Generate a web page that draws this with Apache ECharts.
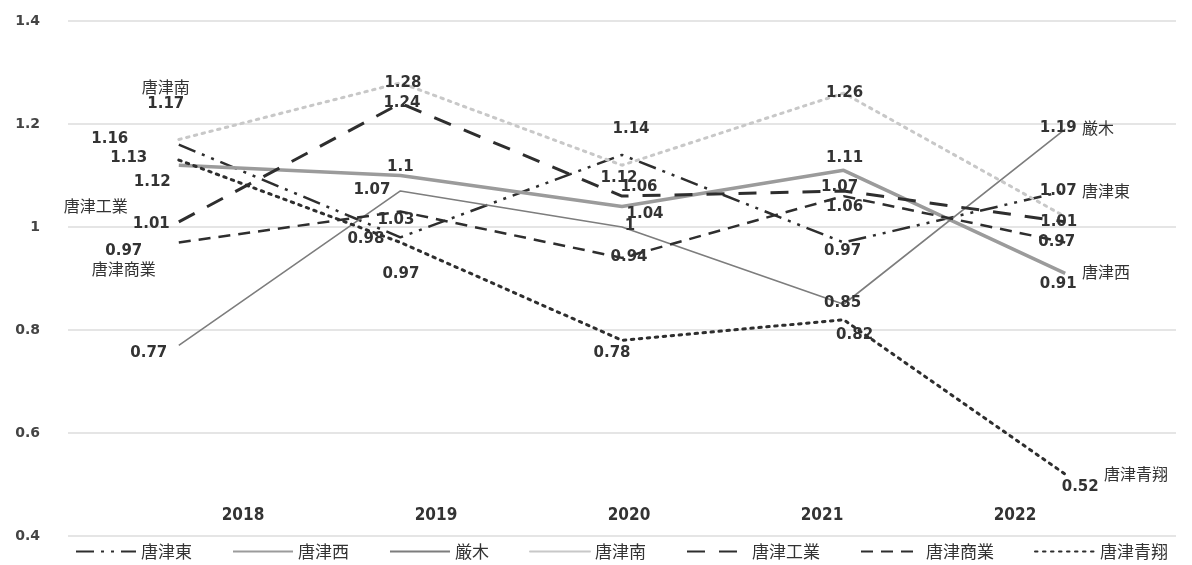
<!DOCTYPE html>
<html>
<head>
<meta charset="utf-8">
<title>唐津 各校</title>
<script src="https://cdn.jsdelivr.net/npm/echarts@6/dist/echarts.min.js"></script>
<style>
  html, body { margin: 0; padding: 0; background: #fff; }
  #main { width: 1192px; height: 565px; }
</style>
</head>
<body>
<div id="main"></div>
<script>
// 年度
const years = ['2018', '2019', '2020', '2021', '2022'];
// 縦軸
const yMin = 0.4, yMax = 1.4, yStep = 0.2;

// 各校の値
const higashi = [1.16, 0.98, 1.14, 0.97, 1.07];   // 唐津東
const nishi   = [1.12, 1.10, 1.04, 1.11, 0.91];   // 唐津西
const kyuragi = [0.77, 1.07, 1.00, 0.85, 1.19];   // 厳木
const minami  = [1.17, 1.28, 1.12, 1.26, 1.02];   // 唐津南
const kogyo   = [1.01, 1.24, 1.06, 1.07, 1.01];   // 唐津工業
const shogyo  = [0.97, 1.03, 0.94, 1.06, 0.97];   // 唐津商業
const seisho  = [1.13, 0.97, 0.78, 0.82, 0.52];   // 唐津青翔

const DARK = '#2e2e2e';

// 線の見た目
const styles = {
  '唐津東':   { color: DARK, width: 2.5, type: [18, 7, 3, 7, 3, 7] },
  '唐津西':   { color: '#9b9b9b', width: 3.5, type: 'solid' },
  '厳木':     { color: '#7d7d7d', width: 1.6, type: 'solid' },
  '唐津南':   { color: '#c8c8c8', width: 3, type: [2.5, 5.5], cap: 'round' },
  '唐津工業': { color: DARK, width: 3, type: [18, 14] },
  '唐津商業': { color: DARK, width: 2.5, type: [12, 8] },
  '唐津青翔': { color: DARK, width: 3, type: [2.5, 5.5], cap: 'round' }
};

// ラベル位置 [dx, dy, 表示形式]
const labelPlace = {
  '唐津東':   [[-69, -5], [-34.5, 2], [9, -26], [-1, 8.5], [-25.5, 0, 'after']],
  '唐津西':   [[-26.5, 17], [0, -8.5], [23, 7.5], [1, -12.5], [-25.5, 4.5, 'split']],
  '厳木':     [[-30, 7.5], [-28.5, -1], [8, -1], [-1, -1], [-25.5, -1, 'after']],
  '唐津南':   [[-13, -44, 'above'], [2.5, 0], [-3, 13], [1, 0], null],
  '唐津工業': [[-9, -7, 'aboveR'], [1.5, 0], [17, -9], [-4, -4], [-6.5, 0]],
  '唐津商業': [[-55, 18, 'below'], [-4.5, 8.5], [7, -1], [1, 11], [-8.5, 0]],
  '唐津青翔': [[-50, -2], [0.5, 31.5], [-10, 13], [11, 15], [-3.5, 6, 'split']]
};

const seriesList = [
  ['唐津東', higashi], ['唐津西', nishi], ['厳木', kyuragi], ['唐津南', minami],
  ['唐津工業', kogyo], ['唐津商業', shogyo], ['唐津青翔', seisho]
];

const numFont = 'DejaVu Sans';
const jpFont = '"Noto Sans CJK JP", "Noto Sans CJK SC", sans-serif';
const rich = {
  v:  { fontFamily: numFont, fontSize: 15, fontWeight: 'bold', color: '#333', lineHeight: 17 },
  n:  { fontFamily: jpFont, fontSize: 16, color: '#333', lineHeight: 18 },
  nr: { fontFamily: jpFont, fontSize: 16, color: '#333', lineHeight: 18, padding: [0, 42, 0, 0] },
  vb: { fontFamily: numFont, fontSize: 15, fontWeight: 'bold', color: '#333', lineHeight: 28, verticalAlign: 'bottom' },
  nt: { fontFamily: jpFont, fontSize: 16, color: '#333', lineHeight: 28, verticalAlign: 'top' }
};

function labelText(name, value, mode) {
  const v = String(value);
  switch (mode) {
    case 'above':  return '{n|' + name + '}\n{v|' + v + '}';
    case 'aboveR': return '{nr|' + name + '}\n{v|' + v + '}';
    case 'below':  return '{v|' + v + '}\n{n|' + name + '}';
    case 'after':  return '{v|' + v + ' }{n|' + name + '}';
    case 'split':  return '{vb|' + v + ' }{nt|' + name + '}';
    default:       return '{v|' + v + '}';
  }
}

function buildSeries(name, values) {
  const st = styles[name];
  const places = labelPlace[name];
  return {
    name: name,
    type: 'line',
    xAxisIndex: 0,
    yAxisIndex: 0,
    symbol: 'circle',
    symbolSize: 1,
    itemStyle: { color: 'rgba(0,0,0,0)' },
    lineStyle: { color: st.color, width: st.width, type: st.type, cap: st.cap || 'butt' },
    emphasis: { disabled: true },
    data: values.map(function (val, i) {
      const p = places[i];
      if (!p) return { value: val, label: { show: false } };
      const mode = p[2];
      let align = 'center';
      if (mode === 'after' || mode === 'split') align = 'left';
      if (mode === 'aboveR') align = 'right';
      return {
        value: val,
        label: {
          show: true,
          position: 'inside',
          offset: [p[0], p[1]],
          align: align,
          verticalAlign: 'middle',
          formatter: labelText(name, val, mode),
          rich: rich
        }
      };
    })
  };
}

const chart = echarts.init(document.getElementById('main'), null, { renderer: 'canvas' });

chart.setOption({
  backgroundColor: '#ffffff',
  animation: false,
  grid: [
    { left: 68, right: 16, top: 21, bottom: 29, containLabel: false },
    { left: 146.5, right: 80.5, top: 21, bottom: 29, containLabel: false }
  ],
  legend: {
    left: 70,
    top: 538,
    itemWidth: 60,
    itemHeight: 12,
    itemGap: 40,
    textStyle: { fontFamily: jpFont, fontSize: 17, color: '#333' },
    data: seriesList.map(function (s) {
      if (s[0] === '唐津南') return { name: s[0], lineStyle: { type: 'solid' } };
      return { name: s[0] };
    })
  },
  xAxis: [
    {
      type: 'category',
      gridIndex: 0,
      data: years,
      boundaryGap: true,
      axisLine: { show: false },
      axisTick: { show: false },
      axisLabel: { show: false }
    },
    {
      type: 'category',
      gridIndex: 1,
      data: years,
      boundaryGap: true,
      axisLine: { show: false },
      axisTick: { show: false },
      axisLabel: {
        inside: true,
        margin: 12,
        fontFamily: '"DejaVu Sans Condensed", "Liberation Sans Narrow", "DejaVu Sans", sans-serif',
        fontSize: 17,
        fontWeight: 'bold',
        color: '#333'
      }
    }
  ],
  yAxis: [
    {
      type: 'value',
      gridIndex: 0,
      min: yMin,
      max: yMax,
      interval: yStep,
      axisLine: { show: false },
      axisTick: { show: false },
      splitLine: { lineStyle: { color: '#dcdcdc', width: 1.5 } },
      axisLabel: {
        margin: 28,
        fontFamily: numFont,
        fontSize: 14,
        fontWeight: 'bold',
        color: '#444',
        formatter: function (v) { return String(Math.round(v * 10) / 10); }
      }
    },
    {
      type: 'value',
      gridIndex: 1,
      min: yMin,
      max: yMax,
      show: false
    }
  ],
  series: seriesList.map(function (s) { return buildSeries(s[0], s[1]); })
});
</script>
</body>
</html>
